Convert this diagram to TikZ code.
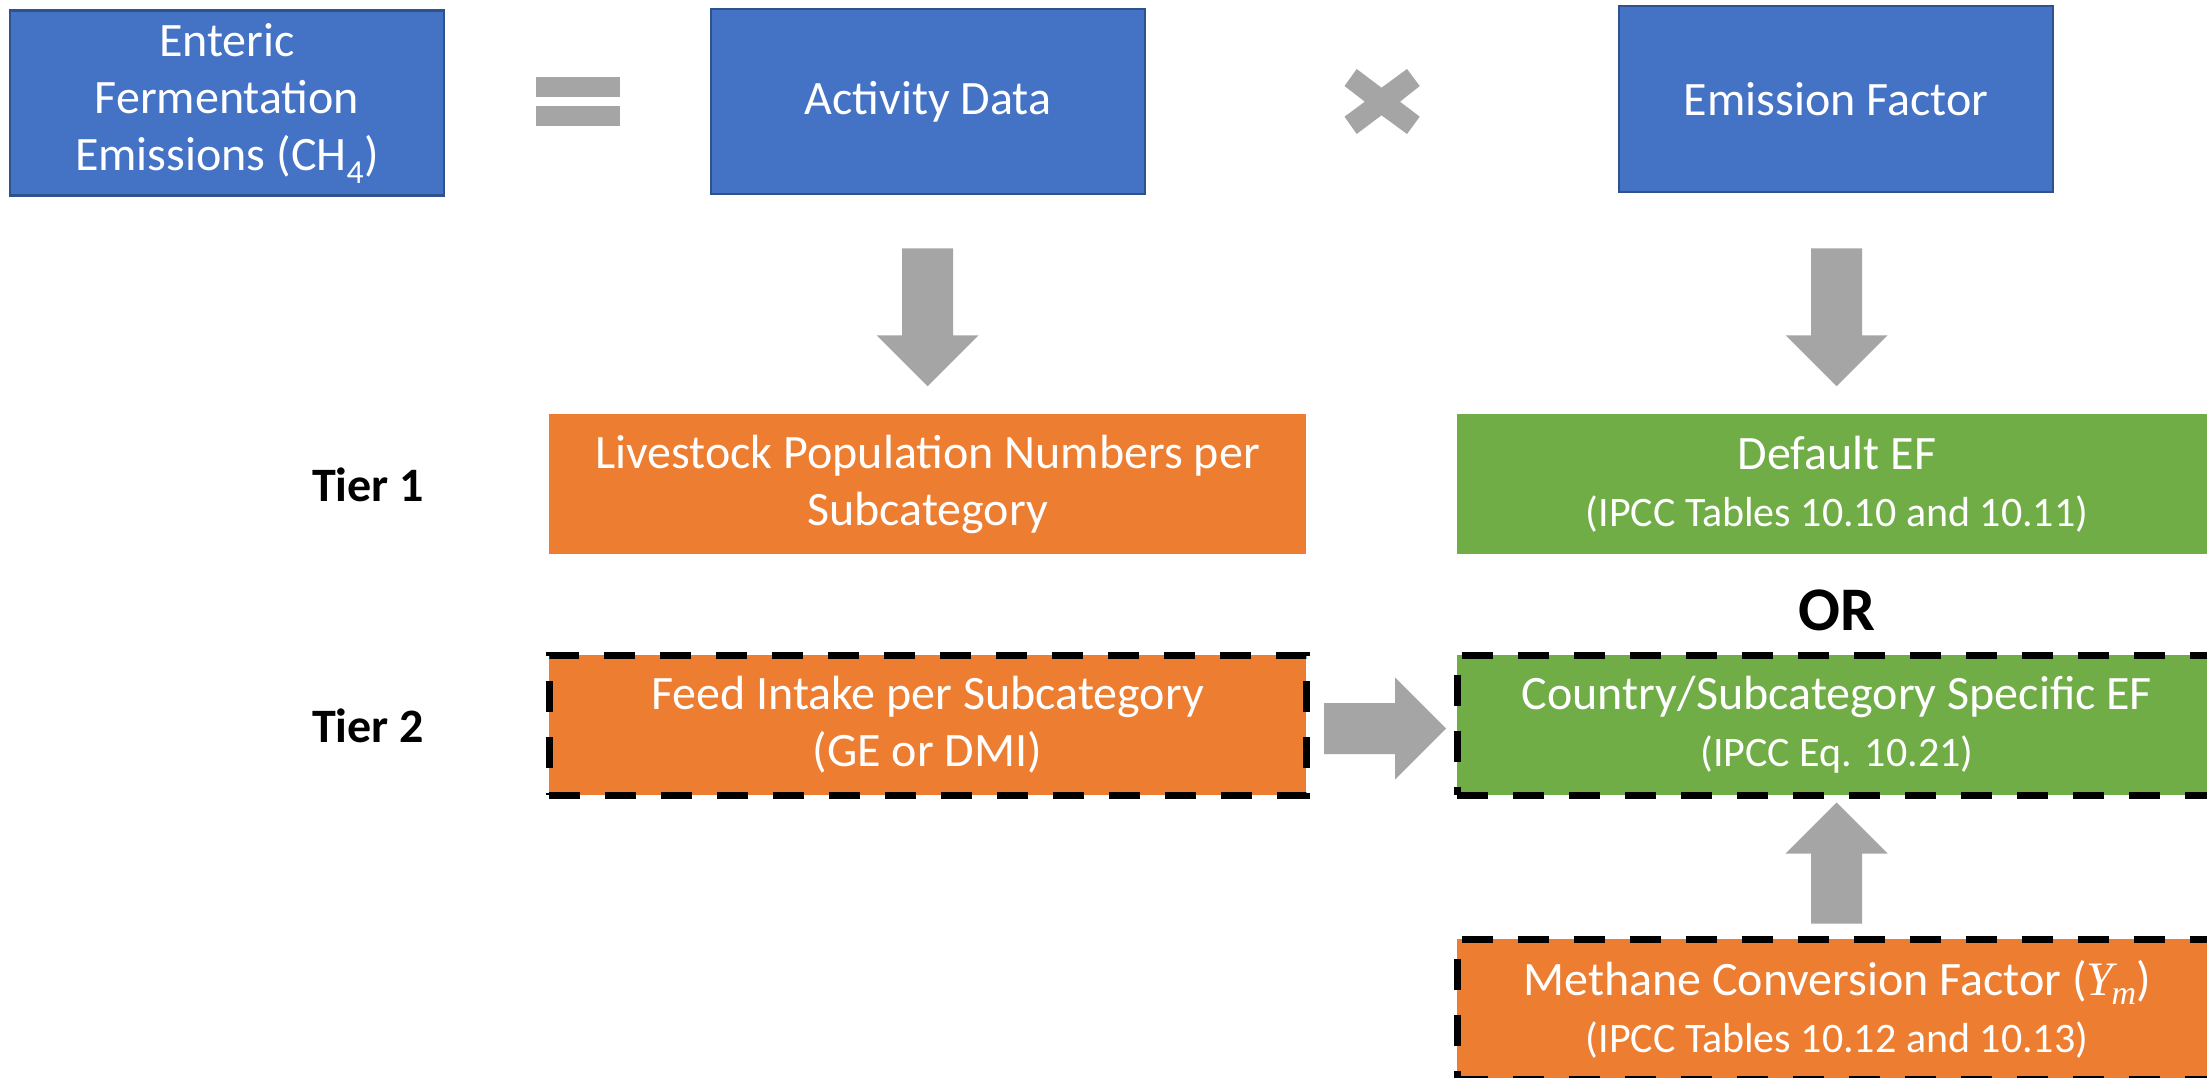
\documentclass[tikz,border=0pt]{standalone}
\usepackage{fontspec}
\setmainfont{Carlito}
\newfontfamily\ymfont{Liberation Serif}
\usetikzlibrary{calc}
\definecolor{bfill}{HTML}{4472C4}
\definecolor{bborder}{HTML}{2F528F}
\definecolor{ofill}{HTML}{ED7D31}
\definecolor{gfill}{HTML}{70AD47}
\definecolor{agray}{HTML}{A5A5A5}
\newcommand{\blockarrow}[3]{%
  \fill[agray,shift={(#1)},rotate=#2] (0pt,25.5pt) -- ({#3pt-51pt},25.5pt) -- ({#3pt-51pt},51pt) -- (#3pt,0pt) -- ({#3pt-51pt},-51pt) -- ({#3pt-51pt},-25.5pt) -- (0pt,-25.5pt) -- cycle;}
\newcommand{\ymsym}{{\ymfont\itshape Y\kern-2pt\raisebox{-9pt}{\fontsize{34}{40}\selectfont m}}}
\begin{document}
\begin{tikzpicture}[x=1pt,y=-1pt,
  mainfont/.style={font=\fontsize{48}{57}\selectfont},
  bluebox/.style={draw=bborder, line width=2.5pt, fill=bfill, text=white, align=center, inner sep=0pt, minimum width=434pt, minimum height=185pt, mainfont},
  orbox/.style={fill=ofill, text=white, align=center, inner sep=0pt, minimum width=757pt, minimum height=140pt, mainfont},
  grbox/.style={fill=gfill, text=white, align=center, inner sep=0pt, minimum width=760pt, minimum height=140pt, mainfont},
  dashbox/.style={draw=black, line width=7pt, dash pattern=on 31pt off 25pt},
  tierlabel/.style={font=\fontsize{48}{57}\selectfont\bfseries, inner sep=0pt}]
\clip (0,0) rectangle (2207,1078);
\fill[white] (0,0) rectangle (2207,1078);

% top row
\node[bluebox] (emis) at (227,103) {Enteric\\Fermentation\\Emissions (CH\textsubscript{4})};
\node[bluebox] (act) at (928,101.5) {Activity Data};
\node[bluebox, minimum height=186pt] (ef) at (1836,99) {Emission Factor};

% equals sign
\fill[agray] (536,77) rectangle (620,97);
\fill[agray] (536,106) rectangle (620,126);
% multiply sign
\fill[agray] (1344.5,86) -- (1356.7,69) -- (1381.5,87.7) -- (1407,69) -- (1419.7,86) -- (1400,101.7) -- (1419.7,116.7) -- (1407,134) -- (1381.5,115.3) -- (1356.7,134) -- (1344.5,116.7) -- (1364.8,101.7) -- cycle;

% tier labels
\node[tierlabel] (t1) at (368,485) {Tier 1};
\node[tierlabel] (t2) at (368,726) {Tier 2};

% second row
\node[orbox] (live) at (927.5,484) {Livestock Population Numbers per\\Subcategory};
\node[grbox] (def) at (1837,484) {Default EF\\\fontsize{42}{52}\selectfont (IPCC Tables 10.10 and 10.11)};
\node[font=\fontsize{62}{70}\selectfont\bfseries, inner sep=0pt] (or) at (1837,610) {OR};

% third row
\node[orbox, dashbox] (feed) at (927.5,725) {Feed Intake per Subcategory\\(GE or DMI)};
\node[grbox, dashbox] (cef) at (1837,725) {Country/Subcategory Specific EF\\\fontsize{42}{52}\selectfont (IPCC Eq. 10.21)};

% fourth row
\node[orbox, dashbox, minimum width=760pt] (mcf) at (1837,1009) {Methane Conversion Factor (\ymsym)\\\fontsize{42}{52}\selectfont (IPCC Tables 10.12 and 10.13)};

% block arrows
\coordinate (a1) at ($(act.south)+(-0.5,53)$);
\coordinate (a2) at ($(ef.south)+(0.5,55)$);
\coordinate (a3) at ($(feed.east)+(14.5,3.5)$);
\coordinate (a4) at ($(mcf.north)+(-0.5,-12)$);
\blockarrow{a1}{-90}{138}
\blockarrow{a2}{-90}{138}
\blockarrow{a3}{0}{122}
\blockarrow{a4}{90}{121}
\end{tikzpicture}
\end{document}
